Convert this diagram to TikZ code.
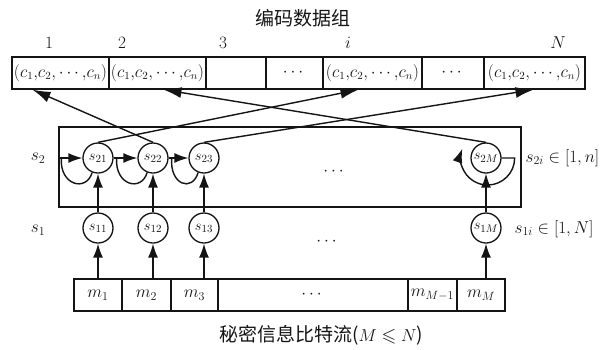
\documentclass[tikz,border=0pt]{standalone}
\usepackage{amsmath,amssymb}
\usepackage{fontspec}
\newfontfamily\cjk{Noto Sans CJK SC}
\usepackage{tikz}
\usetikzlibrary{arrows.meta,positioning}
\definecolor{DiagramInk}{gray}{0.08}
\newcommand{\CodeTuple}{{\fontsize{16}{18}\selectfont$(c_1{,}c_2{,}\cdots{,}c_n)$}}
\tikzset{
  diagram/.style={x=1pt,y=-1pt,color=DiagramInk,font=\fontsize{17}{20}\selectfont},
  cell/.style={draw=DiagramInk,line width=1.3pt,minimum height=32pt,inner sep=0pt},
  state/.style={circle,draw=DiagramInk,line width=1.3pt,minimum size=30pt,inner sep=0pt,
    font=\fontsize{15}{17}\selectfont},
  flow/.style={-{Latex[length=14pt,width=10pt]},line width=1.4pt,draw=DiagramInk},
  link/.style={-{Latex[length=18pt,width=11pt]},line width=1.4pt,draw=DiagramInk},
  loopline/.style={line width=1.4pt,draw=DiagramInk},
  heading/.style={font=\cjk\fontsize{19}{22}\selectfont},
}

\begin{document}
\begin{tikzpicture}[diagram]
  \useasboundingbox (0,0) rectangle (611,349);

  \node[heading] (title) at (303,18) {编码数据组};

  % coded data groups
  \node[cell,minimum width=97pt] (c1) at (60.5,73) {\CodeTuple};
  \node[cell,minimum width=97pt] (c2) at (157.5,73) {\CodeTuple};
  \node[cell,minimum width=60pt] (c3) at (236,73) {};
  \node[cell,minimum width=57pt] (c4) at (294.5,73) {$\cdots$};
  \node[cell,minimum width=99pt] (c5) at (372.5,73) {\CodeTuple};
  \node[cell,minimum width=62pt] (c6) at (453,73) {$\cdots$};
  \node[cell,minimum width=101pt] (c7) at (534.5,73) {\CodeTuple};

  \node (n1) at (49,43) {$1$};
  \node (n2) at (122,43) {$2$};
  \node (n3) at (223,43) {$3$};
  \node (ni) at (348,43) {$i$};
  \node (nN) at (558,43) {$N$};

  % second layer
  \node[cell,minimum width=462pt,minimum height=80pt] (layer) at (290,167) {};
  \node[state] (s21) at (98,158) {$s_{21}$};
  \node[state] (s22) at (153,158) {$s_{22}$};
  \node[state] (s23) at (204,158) {$s_{23}$};
  \node[state] (s2M) at (486,158) {$s_{2M}$};
  \node (dots2) at (335,172) {$\cdots$};
  \node (lab2) at (38,158) {$s_2$};
  \node[anchor=west] (range2) at (522,158) {$s_{2i}\in[1,n]$};

  % first layer
  \node[state] (s11) at (98,228) {$s_{11}$};
  \node[state] (s12) at (153,228) {$s_{12}$};
  \node[state] (s13) at (204,228) {$s_{13}$};
  \node[state] (s1M) at (486,228) {$s_{1M}$};
  \node (dots1) at (328,242) {$\cdots$};
  \node (lab1) at (38,230) {$s_1$};
  \node[anchor=west] (range1) at (511,229) {$s_{1i}\in[1,N]$};

  % secret bit stream
  \node[cell,minimum width=48pt] (m1) at (98,295) {$m_1$};
  \node[cell,minimum width=49pt] (m2) at (146.5,295) {$m_2$};
  \node[cell,minimum width=47pt] (m3) at (194.5,295) {$m_3$};
  \node[cell,minimum width=190pt] (mdots) at (313,295) {$\cdots$};
  \node[cell,minimum width=49pt] (mM1) at (432.5,295) {$m_{M-1}$};
  \node[cell,minimum width=48pt] (mM) at (481,295) {$m_M$};

  \node[heading] (caption) at (321,335) {秘密信息比特流($M\leqslant N$)};

  \foreach \k in {1,2,3,M} {
    \draw[flow] (m\k.north -| s1\k) -- (s1\k);
    \draw[flow] (s1\k) -- (s2\k);
  }

  \coordinate (entry) at (layer.west |- s21);
  \draw[flow] (entry) -- (s21);
  \draw[flow] (s21) -- (s22);
  \draw[flow] (s22) -- (s23);

  \draw[loopline] ([xshift=3pt]entry) .. controls +(-2,27) and +(-6,20) .. (s21.-112);
  \draw[loopline] ([xshift=3pt]s21.east) .. controls +(-2,27) and +(-6,20) .. (s22.-112);
  \draw[loopline] ([xshift=3pt]s22.east) .. controls +(-2,27) and +(-6,20) .. (s23.-112);
  \draw[flow] (s2M.east) -- ++(13,0) arc[start angle=0,end angle=200,radius=27];

  \draw[link] (s21.north) -- ([xshift=-14pt]c5.south);
  \draw[link] (s22.north) -- ([xshift=-28pt]c1.south);
  \draw[link] (s23.north) -- ([xshift=-1pt]c7.south);
  \draw[link] (s2M.north) -- ([xshift=6pt]c2.south);
\end{tikzpicture}
\end{document}
